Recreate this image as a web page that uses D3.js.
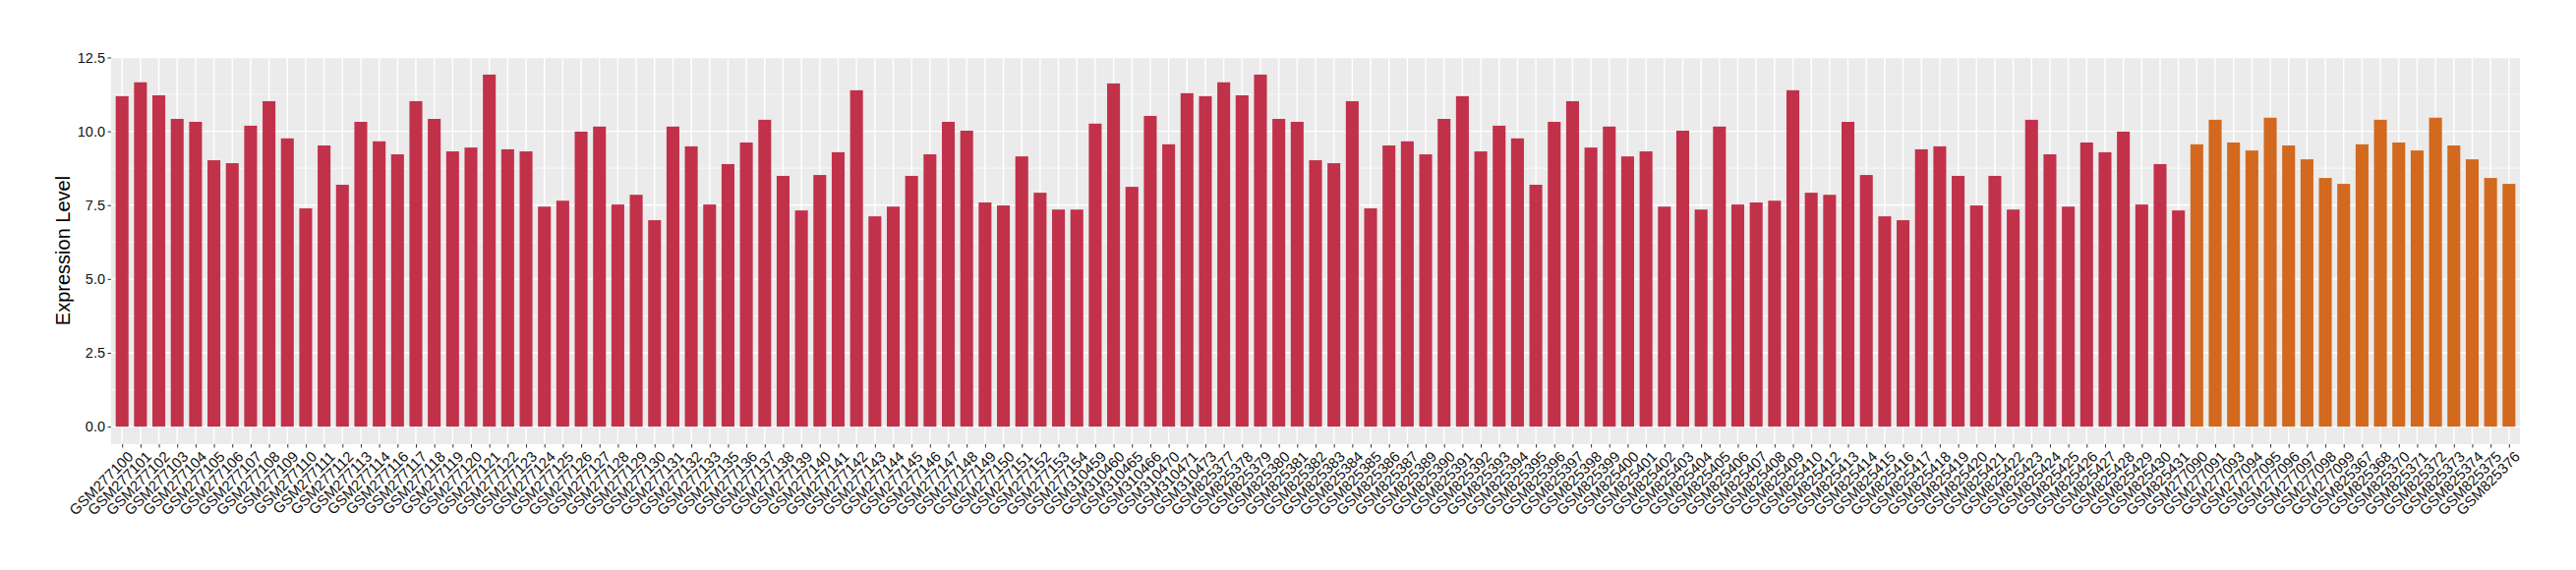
<!DOCTYPE html>
<html>
<head>
<meta charset="utf-8">
<script src="https://cdn.jsdelivr.net/npm/d3@7"></script>
<style>
  html, body { margin: 0; padding: 0; background: #ffffff; }
  svg { display: block; }
</style>
</head>
<body>
<div id="chart"></div>
<script>
// ---- Data ----
const redSamples = [
  "GSM277100","GSM277101","GSM277102","GSM277103","GSM277104","GSM277105","GSM277106","GSM277107","GSM277108","GSM277109",
  "GSM277110","GSM277111","GSM277112","GSM277113","GSM277114","GSM277116","GSM277117","GSM277118","GSM277119","GSM277120",
  "GSM277121","GSM277122","GSM277123","GSM277124","GSM277125","GSM277126","GSM277127","GSM277128","GSM277129","GSM277130",
  "GSM277131","GSM277132","GSM277133","GSM277135","GSM277136","GSM277137","GSM277138","GSM277139","GSM277140","GSM277141",
  "GSM277142","GSM277143","GSM277144","GSM277145","GSM277146","GSM277147","GSM277148","GSM277149","GSM277150","GSM277151",
  "GSM277152","GSM277153","GSM277154","GSM310459","GSM310460","GSM310465","GSM310466","GSM310470","GSM310471","GSM310473",
  "GSM825377","GSM825378","GSM825379","GSM825380","GSM825381","GSM825382","GSM825383","GSM825384","GSM825385","GSM825386",
  "GSM825387","GSM825389","GSM825390","GSM825391","GSM825392","GSM825393","GSM825394","GSM825395","GSM825396","GSM825397",
  "GSM825398","GSM825399","GSM825400","GSM825401","GSM825402","GSM825403","GSM825404","GSM825405","GSM825406","GSM825407",
  "GSM825408","GSM825409","GSM825410","GSM825412","GSM825413","GSM825414","GSM825415","GSM825416","GSM825417","GSM825418",
  "GSM825419","GSM825420","GSM825421","GSM825422","GSM825423","GSM825424","GSM825425","GSM825426","GSM825427","GSM825428",
  "GSM825429","GSM825430","GSM825431"
];
const redValues = [
  11.19,11.66,11.22,10.42,10.32,9.02,8.92,10.19,11.02,9.76,
  7.39,9.52,8.19,10.32,9.66,9.22,11.02,10.42,9.32,9.45,
  11.92,9.39,9.32,7.45,7.65,9.99,10.16,7.52,7.85,6.99,
  10.16,9.49,7.52,8.89,9.62,10.39,8.49,7.32,8.52,9.29,
  11.39,7.12,7.45,8.49,9.22,10.32,10.02,7.59,7.49,9.15,
  7.92,7.35,7.35,10.26,11.62,8.12,10.52,9.56,11.29,11.19,
  11.66,11.22,11.92,10.42,10.32,9.02,8.92,11.02,7.39,9.52,
  9.66,9.22,10.42,11.19,9.32,10.19,9.76,8.19,10.32,11.02,
  9.45,10.16,9.15,9.32,7.45,10.02,7.35,10.16,7.52,7.59,
  7.65,11.39,7.92,7.85,10.32,8.52,7.12,6.99,9.39,9.49,
  8.49,7.49,8.49,7.35,10.39,9.22,7.45,9.62,9.29,9.99,
  7.52,8.89,7.32
];
const orangeSamples = [
  "GSM277090","GSM277091","GSM277093","GSM277094","GSM277095","GSM277096","GSM277097","GSM277098","GSM277099",
  "GSM825367","GSM825368","GSM825370","GSM825371","GSM825372","GSM825373","GSM825374","GSM825375","GSM825376"
];
const orangeValues = [
  9.56,10.39,9.62,9.35,10.46,9.52,9.05,8.42,8.22,
  9.56,10.39,9.62,9.35,10.46,9.52,9.05,8.42,8.22
];
const yTickValues = [0, 2.5, 5, 7.5, 10, 12.5];
const yTickLabels = ["0.0", "2.5", "5.0", "7.5", "10.0", "12.5"];
const yAxisTitle = "Expression Level";
const groupColors = { red: "#C2314A", orange: "#D2691E" };

// ---- Build table ----
const rows = redSamples.map((s, i) => ({ sample: s, value: redValues[i], group: "red" }))
  .concat(orangeSamples.map((s, i) => ({ sample: s, value: orangeValues[i], group: "orange" })));

// ---- Layout ----
const W = 2620, H = 580;
const panel = { left: 113, right: 2563, top: 58, bottom: 452 };

const svg = d3.select("#chart").append("svg")
  .attr("width", W).attr("height", H)
  .style("font-family", "'Liberation Sans', Arial, Helvetica, sans-serif");

svg.append("rect").attr("width", W).attr("height", H).attr("fill", "#ffffff");

const x = d3.scalePoint()
  .domain(rows.map(d => d.sample))
  .range([panel.left, panel.right])
  .padding(0.6);
const step = x.step();
const barW = step * 0.7;

const vmax = d3.max(rows, d => d.value);
const pad = vmax * 0.05;
const y = d3.scaleLinear()
  .domain([-pad, vmax + pad])
  .range([panel.bottom, panel.top]);

// panel background
svg.append("rect")
  .attr("x", panel.left).attr("y", panel.top)
  .attr("width", panel.right - panel.left).attr("height", panel.bottom - panel.top)
  .attr("fill", "#EBEBEB");

const grid = svg.append("g");
// minor y gridlines
const minor = yTickValues.slice(0, -1).map((v, i) => (v + yTickValues[i + 1]) / 2);
grid.selectAll(".minor").data(minor).join("line")
  .attr("x1", panel.left).attr("x2", panel.right)
  .attr("y1", d => y(d)).attr("y2", d => y(d))
  .attr("stroke", "#ffffff").attr("stroke-width", 0.7);
// major y gridlines
grid.selectAll(".major").data(yTickValues).join("line")
  .attr("x1", panel.left).attr("x2", panel.right)
  .attr("y1", d => y(d)).attr("y2", d => y(d))
  .attr("stroke", "#ffffff").attr("stroke-width", 1.4);
// vertical gridlines
grid.selectAll(".vx").data(rows).join("line")
  .attr("x1", d => x(d.sample)).attr("x2", d => x(d.sample))
  .attr("y1", panel.top).attr("y2", panel.bottom)
  .attr("stroke", "#ffffff").attr("stroke-width", 1.4);

// bars
svg.append("g").selectAll("rect").data(rows).join("rect")
  .attr("x", d => x(d.sample) - barW / 2)
  .attr("width", barW)
  .attr("y", d => y(d.value))
  .attr("height", d => y(0) - y(d.value))
  .attr("fill", d => groupColors[d.group]);

// y axis
const yAxis = d3.axisLeft(y)
  .tickValues(yTickValues)
  .tickFormat((d, i) => yTickLabels[i])
  .tickSize(3.5)
  .tickPadding(2.5);
const gy = svg.append("g").attr("transform", `translate(${panel.left},0)`).call(yAxis);
gy.select(".domain").remove();
gy.selectAll(".tick line").attr("stroke", "#333333").attr("stroke-width", 1);
gy.selectAll(".tick text").attr("fill", "#111111").style("font-size", "14.5px");

// x axis
const xAxis = d3.axisBottom(x).tickSize(3.5).tickPadding(0);
const gx = svg.append("g").attr("transform", `translate(0,${panel.bottom})`).call(xAxis);
gx.select(".domain").remove();
gx.selectAll(".tick line").attr("stroke", "#333333").attr("stroke-width", 1);
gx.selectAll(".tick text")
  .attr("fill", "#111111")
  .style("font-size", "15px")
  .attr("text-anchor", "end")
  .attr("x", 0).attr("y", 0).attr("dy", "0.72em")
  .attr("transform", "translate(4,6) rotate(-45)");

// y title
svg.append("text")
  .attr("transform", `translate(71,${(panel.top + panel.bottom) / 2}) rotate(-90)`)
  .attr("text-anchor", "middle")
  .style("font-size", "20px")
  .attr("fill", "#000000")
  .text(yAxisTitle);
</script>
</body>
</html>
